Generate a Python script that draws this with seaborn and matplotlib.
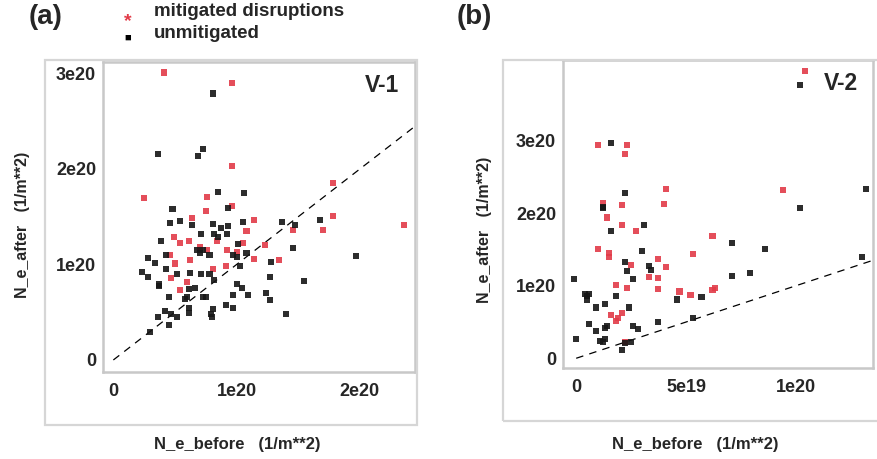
import numpy as np
import pandas as pd
import matplotlib.pyplot as plt
import seaborn as sns
from matplotlib.patches import Rectangle

# values in units of 1e20 (1/m**2)
# --- V-1 ---
mit_a_x = [0.41, 0.96, 0.96, 0.25, 1.78, 1.78, 1.70, 2.36, 1.46, 0.76, 0.75, 0.96,
           1.14, 1.08, 0.64, 0.49, 0.54, 0.61, 0.70, 0.76, 0.84, 0.92, 1.05, 1.23,
           1.34, 1.14, 0.91, 0.81, 0.62, 0.46, 0.50, 0.47, 0.60, 0.54, 1.00]
mit_a_y = [3.01, 2.90, 2.03, 1.70, 1.85, 1.51, 1.36, 1.41, 1.36, 1.71, 1.56, 1.61,
           1.47, 1.35, 1.49, 1.29, 1.22, 1.25, 1.18, 1.15, 1.25, 1.15, 1.22, 1.20,
           1.05, 1.06, 0.98, 0.95, 1.05, 1.10, 1.01, 0.86, 0.82, 0.73, 1.13]
unm_a_x = [0.81, 0.36, 0.69, 0.73, 0.85, 1.06, 0.48, 0.93, 0.54, 0.46, 0.64, 0.81,
           0.87, 0.93, 1.05, 1.37, 1.47, 1.68, 0.39, 0.71, 0.82, 0.85, 0.92, 1.01,
           1.46, 0.68, 0.70, 0.73, 0.78, 0.97, 1.00, 1.08, 0.28, 0.34, 0.43, 1.28,
           1.03, 1.97, 0.23, 0.28, 0.43, 0.52, 0.62, 0.71, 0.78, 0.82, 1.27, 1.55,
           0.37, 0.37, 0.61, 0.66, 0.45, 0.60, 0.58, 0.73, 0.75, 1.00, 1.04, 0.97,
           1.09, 1.24, 1.27, 0.91, 0.97, 0.81, 0.79, 0.80, 0.61, 0.61, 0.42, 0.47,
           0.52, 0.36, 0.45, 1.40, 0.30]
unm_a_y = [2.79, 2.16, 2.14, 2.21, 1.76, 1.75, 1.58, 1.59, 1.46, 1.43, 1.41, 1.42,
           1.38, 1.40, 1.44, 1.44, 1.41, 1.47, 1.25, 1.32, 1.32, 1.29, 1.32, 1.21,
           1.17, 1.15, 1.12, 1.15, 1.10, 1.10, 1.08, 1.12, 1.07, 1.02, 1.10, 1.03,
           0.98, 1.09, 0.92, 0.87, 0.95, 0.90, 0.91, 0.90, 0.90, 0.84, 0.87, 0.83,
           0.79, 0.77, 0.74, 0.75, 0.66, 0.66, 0.64, 0.66, 0.66, 0.80, 0.75, 0.68,
           0.68, 0.70, 0.63, 0.58, 0.54, 0.53, 0.48, 0.45, 0.54, 0.49, 0.51, 0.48,
           0.45, 0.45, 0.37, 0.48, 0.29]

# --- V-2 ---
mit_b_x = [1.04, 0.10, 0.23, 0.22, 0.41, 0.40, 0.12, 0.21, 0.14, 0.21, 0.27, 0.10,
           0.15, 0.15, 0.62, 0.53, 0.94, 0.25, 0.37, 0.41, 0.33, 0.37, 0.18, 0.23,
           0.37, 0.47, 0.52, 0.62, 0.63, 0.16, 0.19, 0.21, 0.18, 0.22]
mit_b_y = [3.96, 2.94, 2.94, 2.82, 2.33, 2.12, 2.14, 2.11, 1.94, 1.84, 1.75, 1.51,
           1.45, 1.39, 1.68, 1.44, 2.32, 1.29, 1.37, 1.26, 1.12, 1.11, 1.01, 0.97,
           0.95, 0.92, 0.87, 0.94, 0.97, 0.60, 0.55, 0.62, 0.51, 0.22]
unm_b_x = [1.02, 0.16, 0.22, 0.12, 0.12, 0.16, 0.31, 0.30, 0.22, 0.23, 0.26, 0.33,
           0.34, 0.71, 0.86, 0.71, 0.79, 1.02, 1.32, 1.30, -0.01, 0.04, 0.05, 0.06,
           0.05, 0.18, 0.13, 0.09, 0.24, 0.46, 0.57, 0.37, 0.53, 0.06, 0.09, 0.13,
           0.14, 0.26, 0.28, 0.00, 0.11, 0.13, 0.12, 0.22, 0.25, 0.21]
unm_b_y = [3.76, 2.97, 2.28, 2.09, 2.07, 1.76, 1.83, 1.48, 1.33, 1.20, 1.09, 1.27,
           1.22, 1.59, 1.50, 1.13, 1.18, 2.07, 2.33, 1.40, 1.09, 0.88, 0.86, 0.88,
           0.81, 0.86, 0.75, 0.70, 0.70, 0.81, 0.85, 0.50, 0.56, 0.47, 0.38, 0.42,
           0.44, 0.44, 0.40, 0.27, 0.24, 0.27, 0.22, 0.21, 0.22, 0.11]

ref_a = [0, 2.5]
ref_b = [0, 1.35]

a_xticks, a_xticklabels = [0, 1, 2], ['0', '1e20', '2e20']
a_yticks, a_yticklabels = [0, 1, 2, 3], ['0', '1e20', '2e20', '3e20']
b_xticks, b_xticklabels = [0, 0.5, 1], ['0', '5e19', '1e20']
b_yticks, b_yticklabels = [0, 1, 2, 3], ['0', '1e20', '2e20', '3e20']

sns.set_style('white')
plt.rcParams['font.family'] = ['Liberation Sans', 'DejaVu Sans']
plt.rcParams['font.weight'] = 'bold'

RED = '#e23b48'
BLK = '#161616'


def make_df(mx, my, ux, uy):
    return pd.concat([
        pd.DataFrame({'x': mx, 'y': my, 'kind': 'mitigated'}),
        pd.DataFrame({'x': ux, 'y': uy, 'kind': 'unmitigated'}),
    ])


W, H = 877, 459
fig = plt.figure(figsize=(W / 100, H / 100), dpi=100)


def px_axes(x0, y0, x1, y1):
    return fig.add_axes([x0 / W, 1 - y1 / H, (x1 - x0) / W, (y1 - y0) / H])


ax1 = px_axes(103, 62, 415, 372)
ax2 = px_axes(563, 60, 873, 368)

panels = [
    (ax1, make_df(mit_a_x, mit_a_y, unm_a_x, unm_a_y), ref_a, (-0.084, 2.447), (-0.126, 3.12),
     a_xticks, a_xticklabels, a_yticks, a_yticklabels, 'V-1'),
    (ax2, make_df(mit_b_x, mit_b_y, unm_b_x, unm_b_y), ref_b, (-0.06, 1.35), (-0.134, 4.11),
     b_xticks, b_xticklabels, b_yticks, b_yticklabels, 'V-2'),
]

for ax, df, ref, xl, yl, xt, xtl, yt, ytl, tag in panels:
    sns.scatterplot(data=df, x='x', y='y', hue='kind', palette={'mitigated': RED, 'unmitigated': BLK},
                    marker='s', s=19, linewidth=0, alpha=0.9, legend=False, ax=ax, zorder=3)
    ax.plot(ref, ref, color='black', linestyle=(0, (6, 5)), linewidth=0.9, zorder=2)
    ax.set_xlim(*xl)
    ax.set_ylim(*yl)
    ax.set_xticks(xt)
    ax.set_xticklabels(xtl, fontsize=13, fontweight='bold')
    ax.set_yticks(yt)
    ax.set_yticklabels(ytl, fontsize=13, fontweight='bold')
    ax.tick_params(axis='x', length=3, width=1, color='#d0d0d0', direction='out', pad=5)
    ax.tick_params(axis='y', length=3, width=1, color='#d0d0d0', direction='out', pad=2)
    ax.set_xlabel('')
    ax.set_ylabel('')
    for sp in ax.spines.values():
        sp.set_color('#c8c8c8')
        sp.set_linewidth(1.8)
    ax.text(0.95, 0.925, tag, transform=ax.transAxes, ha='right', va='center',
            fontsize=16.5, fontweight='bold')

# outer panel boxes
for x0, y0, x1, y1 in [(45, 60, 417, 425), (503, 60, 880, 421)]:
    fig.patches.append(Rectangle((x0 / W, 1 - y1 / H), (x1 - x0) / W, (y1 - y0) / H,
                                 transform=fig.transFigure, fill=False,
                                 edgecolor='#d6d6d6', linewidth=1.6, zorder=0))

# panel letters
fig.text(29 / W, 1 - 17 / H, '(a)', fontsize=20, fontweight='bold', va='center')
fig.text(457 / W, 1 - 17 / H, '(b)', fontsize=20, fontweight='bold', va='center')

# legend at top
fig.text(128 / W, 1 - 22 / H, '*', color=RED, fontsize=14, ha='center', va='center')
fig.text(128 / W, 1 - 38 / H, '■', color='black', fontsize=8, ha='center', va='center')
fig.text(154 / W, 1 - 12 / H, 'mitigated disruptions', fontsize=13.5, fontweight='bold', va='center')
fig.text(154 / W, 1 - 34 / H, 'unmitigated', fontsize=13.5, fontweight='bold', va='center')

# axis labels
for xc, yc, xlc in [(23, 225, 237), (485, 230, 695)]:
    fig.text(xc / W, 1 - yc / H, 'N_e_after   (1/m**2)', rotation=90, fontsize=11.5,
             fontweight='bold', ha='center', va='center')
    fig.text(xlc / W, 1 - 445 / H, 'N_e_before   (1/m**2)', fontsize=12,
             fontweight='bold', ha='center', va='center')

fig.savefig('out.png', dpi=100)
